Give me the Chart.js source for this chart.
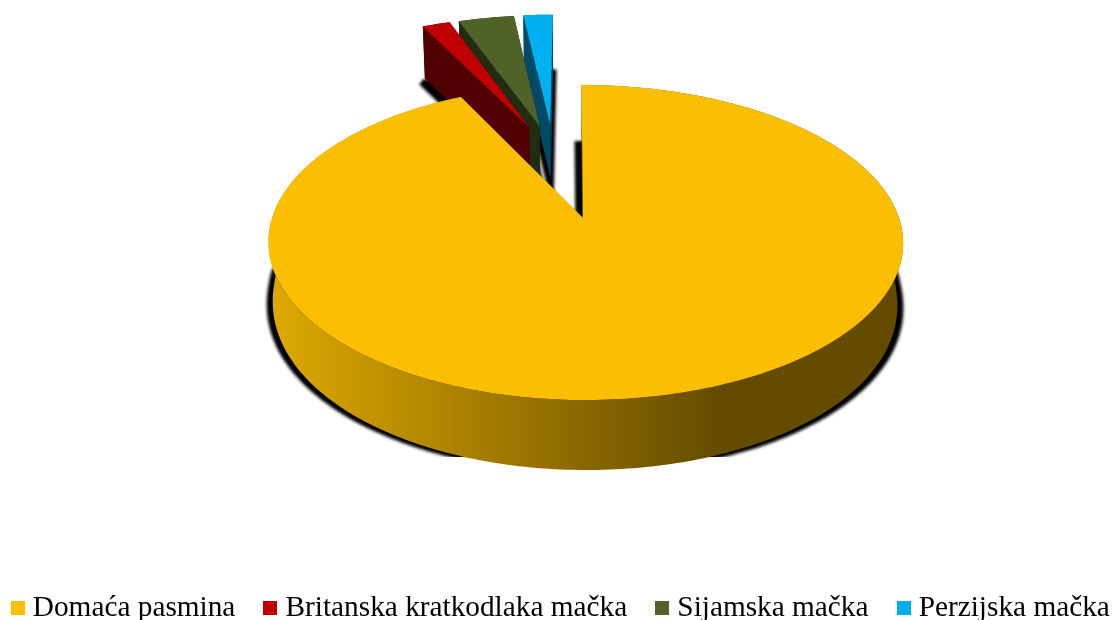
<!DOCTYPE html>
<html lang="hr">
<head>
  <meta charset="UTF-8" />
  <title>Pasmine mačaka</title>
  <script src="https://cdn.jsdelivr.net/npm/chart.js"></script>
  <style>
    html, body { margin: 0; background: #fff; }
    canvas { display: block; }
  </style>
</head>
<body>
  <canvas id="catChart" width="1115" height="620"></canvas>

  <script>
    const categories = ["Domaća pasmina", "Britanska kratkodlaka mačka", "Sijamska mačka", "Perzijska mačka"];
    const shares = [92.7, 1.8, 3.6, 1.9];
    const topColors = ["#fbbe00", "#c00000", "#4f6228", "#00b0f0"];
    const sideColors = ["#7a5c00", "#500000", "#222c12", "#004a66"];

    // perspective of the disc, u/v are in pie radii, v grows towards the viewer
    const CX = 583, CY = 218, KP = 0.1556, AY = 153.7;
    const EXPLODE = 0.675, EXPLODE_BLEND = 0.33, EXPLODE_TILT = 0.006;
    const SHADOW_BOTTOM = 457;

    const wallDepth = v => (v > 0 ? 55 + 15 * Math.sqrt(v) : 55 + 2 * v);
    const top3d = (u, v) => {
      const f = 1 - KP * v;
      return [CX + (u > 0 ? 316 : 311) * u / f + 1.5 * v, CY + AY * v / f];
    };
    const bottom3d = (u, v) => {
      const f = 1 - KP * v;
      return [CX + 1.5 * v + 2 * Math.max(0, v) + (u > 0 ? 310 : 307) * u / f, CY + AY * v / f + wallDepth(v)];
    };
    const shadow3d = (u, v) => {
      const f = 1 - KP * v;
      return [CX + 1.5 * v + 2 * Math.max(0, v) + (u > 0 ? 316 : 313) * u / f, CY + AY * v / f + wallDepth(v) + 3];
    };

    function sliceOutline(arc, groupMid, exploded) {
      const { startAngle, endAngle } = arc.getProps(["startAngle", "endAngle"]);
      let ox = 0, oy = 0;
      if (exploded) {
        const mid = (startAngle + endAngle) / 2;
        const dir = groupMid + (mid - groupMid) * EXPLODE_BLEND + EXPLODE_TILT;
        ox = Math.cos(dir) * EXPLODE;
        oy = Math.sin(dir) * EXPLODE;
      }
      const pts = [[ox, oy]];
      const steps = Math.max(4, Math.ceil((endAngle - startAngle) * 60));
      for (let i = 0; i <= steps; i++) {
        const a = startAngle + (endAngle - startAngle) * i / steps;
        pts.push([ox + Math.cos(a), oy + Math.sin(a)]);
      }
      return pts;
    }

    function fillPoly(ctx, poly, color) {
      ctx.beginPath();
      poly.forEach((p, i) => i ? ctx.lineTo(p[0], p[1]) : ctx.moveTo(p[0], p[1]));
      ctx.closePath();
      ctx.fillStyle = color;
      ctx.fill();
    }

    // draws the arcs of the pie as a tilted, exploded 3D pie
    const pie3d = {
      id: "pie3d",
      beforeDatasetsDraw(chart) {
        const ctx = chart.ctx;
        const arcs = chart.getDatasetMeta(0).data;
        const small = arcs.slice(1).map(a => a.getProps(["startAngle", "endAngle"]));
        const groupMid = (small[0].startAngle + small[small.length - 1].endAngle) / 2;
        const outlines = arcs.map((a, i) => sliceOutline(a, groupMid, i > 0));

        const wallGrad = ctx.createLinearGradient(270, 0, 720, 0);
        wallGrad.addColorStop(0, "#dfa900");
        wallGrad.addColorStop(1, "#644b00");

        // soft black shadows first, cut off flat at the bottom like the original
        ctx.save();
        ctx.beginPath();
        ctx.rect(0, 0, chart.width, SHADOW_BOTTOM);
        ctx.clip();
        ctx.filter = "blur(1.5px)";
        outlines.forEach((pts, i) => {
          const poly = pts.map(p => shadow3d(p[0], p[1]));
          fillPoly(ctx, poly, "#000");
          ctx.strokeStyle = "#000";
          ctx.lineWidth = i === 0 ? 14 : 8;
          ctx.beginPath();
          ctx.moveTo(poly[1][0], poly[1][1]);
          ctx.lineTo(poly[0][0], poly[0][1]);
          ctx.lineTo(poly[poly.length - 1][0], poly[poly.length - 1][1]);
          ctx.stroke();
        });
        ctx.restore();

        // far slices first, the big one ends up on top
        [3, 2, 1, 0].forEach(i => {
          const pts = outlines[i];
          const side = i === 0 ? wallGrad : sideColors[i];
          const rim = pts.slice(1);
          const last = rim[rim.length - 1];
          const wall = rim.map(p => top3d(p[0], p[1])).concat(rim.slice().reverse().map(p => bottom3d(p[0], p[1])));
          fillPoly(ctx, wall, side);
          [rim[0], last].forEach(c => {
            fillPoly(ctx, [top3d(pts[0][0], pts[0][1]), top3d(c[0], c[1]), bottom3d(c[0], c[1]), bottom3d(pts[0][0], pts[0][1])], side);
          });
          fillPoly(ctx, pts.map(p => top3d(p[0], p[1])), topColors[i]);
        });
        return false;
      }
    };

    function squareMarker(color) {
      const c = document.createElement("canvas");
      c.width = 14;
      c.height = 14;
      const g = c.getContext("2d");
      g.fillStyle = color;
      g.fillRect(0, 0, 14, 14);
      return c;
    }

    new Chart(document.getElementById("catChart"), {
      type: "pie",
      data: {
        labels: categories,
        datasets: [{ data: shares, backgroundColor: topColors, borderWidth: 0 }]
      },
      options: {
        responsive: false,
        animation: false,
        layout: { padding: { left: -34, right: -46, bottom: -12.5 } },
        plugins: {
          tooltip: { enabled: false },
          legend: {
            position: "bottom",
            labels: {
              color: "#000",
              font: { family: "'Liberation Serif'", size: 29.3 },
              padding: 34.5,
              usePointStyle: true,
              pointStyleWidth: 1,
              boxHeight: 14,
              generateLabels(chart) {
                const items = Chart.overrides.doughnut.plugins.legend.labels.generateLabels(chart);
                items.forEach((it, i) => { it.pointStyle = squareMarker(topColors[i]); });
                return items;
              }
            }
          }
        }
      },
      plugins: [pie3d]
    });
  </script>
</body>
</html>
